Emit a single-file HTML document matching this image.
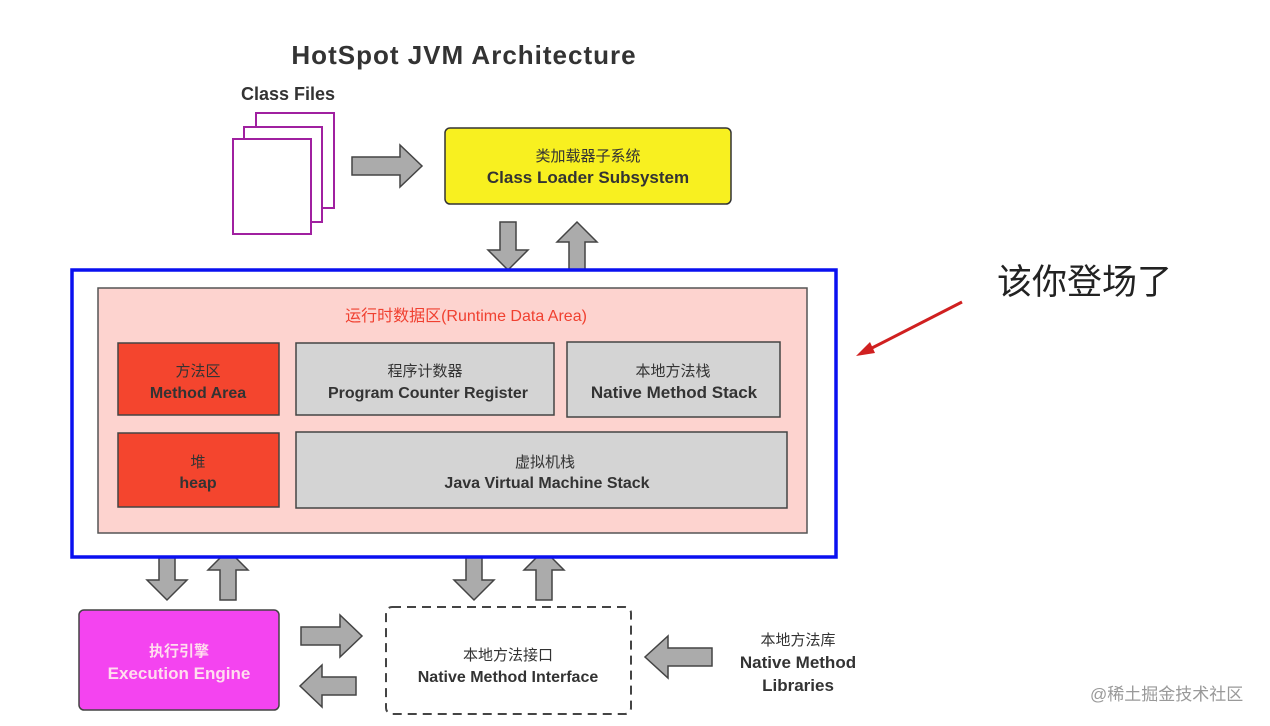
<!DOCTYPE html>
<html><head><meta charset="utf-8"><style>
html,body{margin:0;padding:0;background:#fff;}
svg{display:block;}
text{font-family:"Liberation Sans","Noto Sans CJK SC",sans-serif;}
</style></head><body>
<svg width="1270" height="726" viewBox="0 0 1270 726" xmlns="http://www.w3.org/2000/svg">
<rect width="1270" height="726" fill="#fff"/>
<text x="464" y="64" text-anchor="middle" font-size="26" font-weight="bold" fill="#333" letter-spacing="1">HotSpot JVM Architecture</text>
<text x="288" y="100" text-anchor="middle" font-size="18" font-weight="bold" fill="#333">Class Files</text>
<g fill="#fff" stroke="#a020a0" stroke-width="2">
<rect x="256" y="113" width="78" height="95"/>
<rect x="244" y="127" width="78" height="95"/>
<rect x="233" y="139" width="78" height="95"/>
</g>
<g fill="#ababab" stroke="#444" stroke-width="1.5" stroke-linejoin="miter">
<polygon points="352,157 400,157 400,145 422,166 400,187 400,175 352,175"/>
<polygon points="500,222 516,222 516,250 528,250 508,270 488,250 500,250"/>
<polygon points="569,270 585,270 585,242 597,242 577,222 557,242 569,242"/>
<polygon points="159,550 175,550 175,580 187,580 167,600 147,580 159,580"/>
<polygon points="220,600 236,600 236,570 248,570 228,550 208,570 220,570"/>
<polygon points="466,550 482,550 482,580 494,580 474,600 454,580 466,580"/>
<polygon points="536,600 552,600 552,570 564,570 544,550 524,570 536,570"/>
<polygon points="301,627 340,627 340,615 362,636 340,657 340,645 301,645"/>
<polygon points="356,677 322,677 322,665 300,686 322,707 322,695 356,695"/>
<polygon points="712,648 668,648 668,636 645,657 668,678 668,666 712,666"/>
</g>
<rect x="445" y="128" width="286" height="76" rx="5" fill="#f8f020" stroke="#333" stroke-width="1.5"/>
<text x="588" y="161" text-anchor="middle" font-size="15" fill="#333">类加载器子系统</text>
<text x="588" y="183" text-anchor="middle" font-size="17" font-weight="bold" fill="#333">Class Loader Subsystem</text>
<rect x="72" y="270" width="764" height="287" fill="#fff" stroke="#0a10f0" stroke-width="3.5"/>
<rect x="98" y="288" width="709" height="245" fill="#fdd3cf" stroke="#555" stroke-width="1.5"/>
<text x="466" y="321" text-anchor="middle" font-size="16" fill="#f04030">运行时数据区(Runtime Data Area)</text>
<rect x="118" y="343" width="161" height="72" fill="#f4452e" stroke="#444" stroke-width="1.5"/>
<text x="198" y="376" text-anchor="middle" font-size="15" fill="#333">方法区</text>
<text x="198" y="398" text-anchor="middle" font-size="16" font-weight="bold" fill="#333">Method Area</text>
<rect x="296" y="343" width="258" height="72" fill="#d4d4d4" stroke="#444" stroke-width="1.5"/>
<text x="425" y="376" text-anchor="middle" font-size="15" fill="#333">程序计数器</text>
<text x="428" y="398" text-anchor="middle" font-size="16" font-weight="bold" fill="#333">Program Counter Register</text>
<rect x="567" y="342" width="213" height="75" fill="#d4d4d4" stroke="#444" stroke-width="1.5"/>
<text x="673" y="376" text-anchor="middle" font-size="15" fill="#333">本地方法栈</text>
<text x="674" y="398" text-anchor="middle" font-size="17" font-weight="bold" fill="#333">Native Method Stack</text>
<rect x="118" y="433" width="161" height="74" fill="#f4452e" stroke="#444" stroke-width="1.5"/>
<text x="198" y="467" text-anchor="middle" font-size="15" fill="#333">堆</text>
<text x="198" y="488" text-anchor="middle" font-size="16" font-weight="bold" fill="#333">heap</text>
<rect x="296" y="432" width="491" height="76" fill="#d4d4d4" stroke="#444" stroke-width="1.5"/>
<text x="545" y="467" text-anchor="middle" font-size="15" fill="#333">虚拟机栈</text>
<text x="547" y="488" text-anchor="middle" font-size="16" font-weight="bold" fill="#333">Java Virtual Machine Stack</text>
<rect x="79" y="610" width="200" height="100" rx="5" fill="#f444f0" stroke="#444" stroke-width="1.5"/>
<text x="179" y="656" text-anchor="middle" font-size="15" font-weight="bold" fill="#fde">执行引擎</text>
<text x="179" y="679" text-anchor="middle" font-size="17" font-weight="bold" fill="#fde">Execution Engine</text>
<rect x="386" y="607" width="245" height="107" rx="6" fill="#fff" stroke="#444" stroke-width="2" stroke-dasharray="9,6"/>
<text x="508" y="660" text-anchor="middle" font-size="15" fill="#333">本地方法接口</text>
<text x="508" y="682" text-anchor="middle" font-size="16" font-weight="bold" fill="#333">Native Method Interface</text>
<text x="798" y="645" text-anchor="middle" font-size="15" fill="#333">本地方法库</text>
<text x="798" y="668" text-anchor="middle" font-size="17" font-weight="bold" fill="#333">Native Method</text>
<text x="798" y="691" text-anchor="middle" font-size="17" font-weight="bold" fill="#333">Libraries</text>
<line x1="962" y1="302" x2="868" y2="350" stroke="#d02020" stroke-width="3"/>
<polygon points="856,356 870,342 875,353" fill="#d02020"/>
<text x="997" y="294" font-size="35" fill="#222">该你登场了</text>
<text x="1090" y="700" font-size="17" fill="#999">@稀土掘金技术社区</text>
</svg>
</body></html>
